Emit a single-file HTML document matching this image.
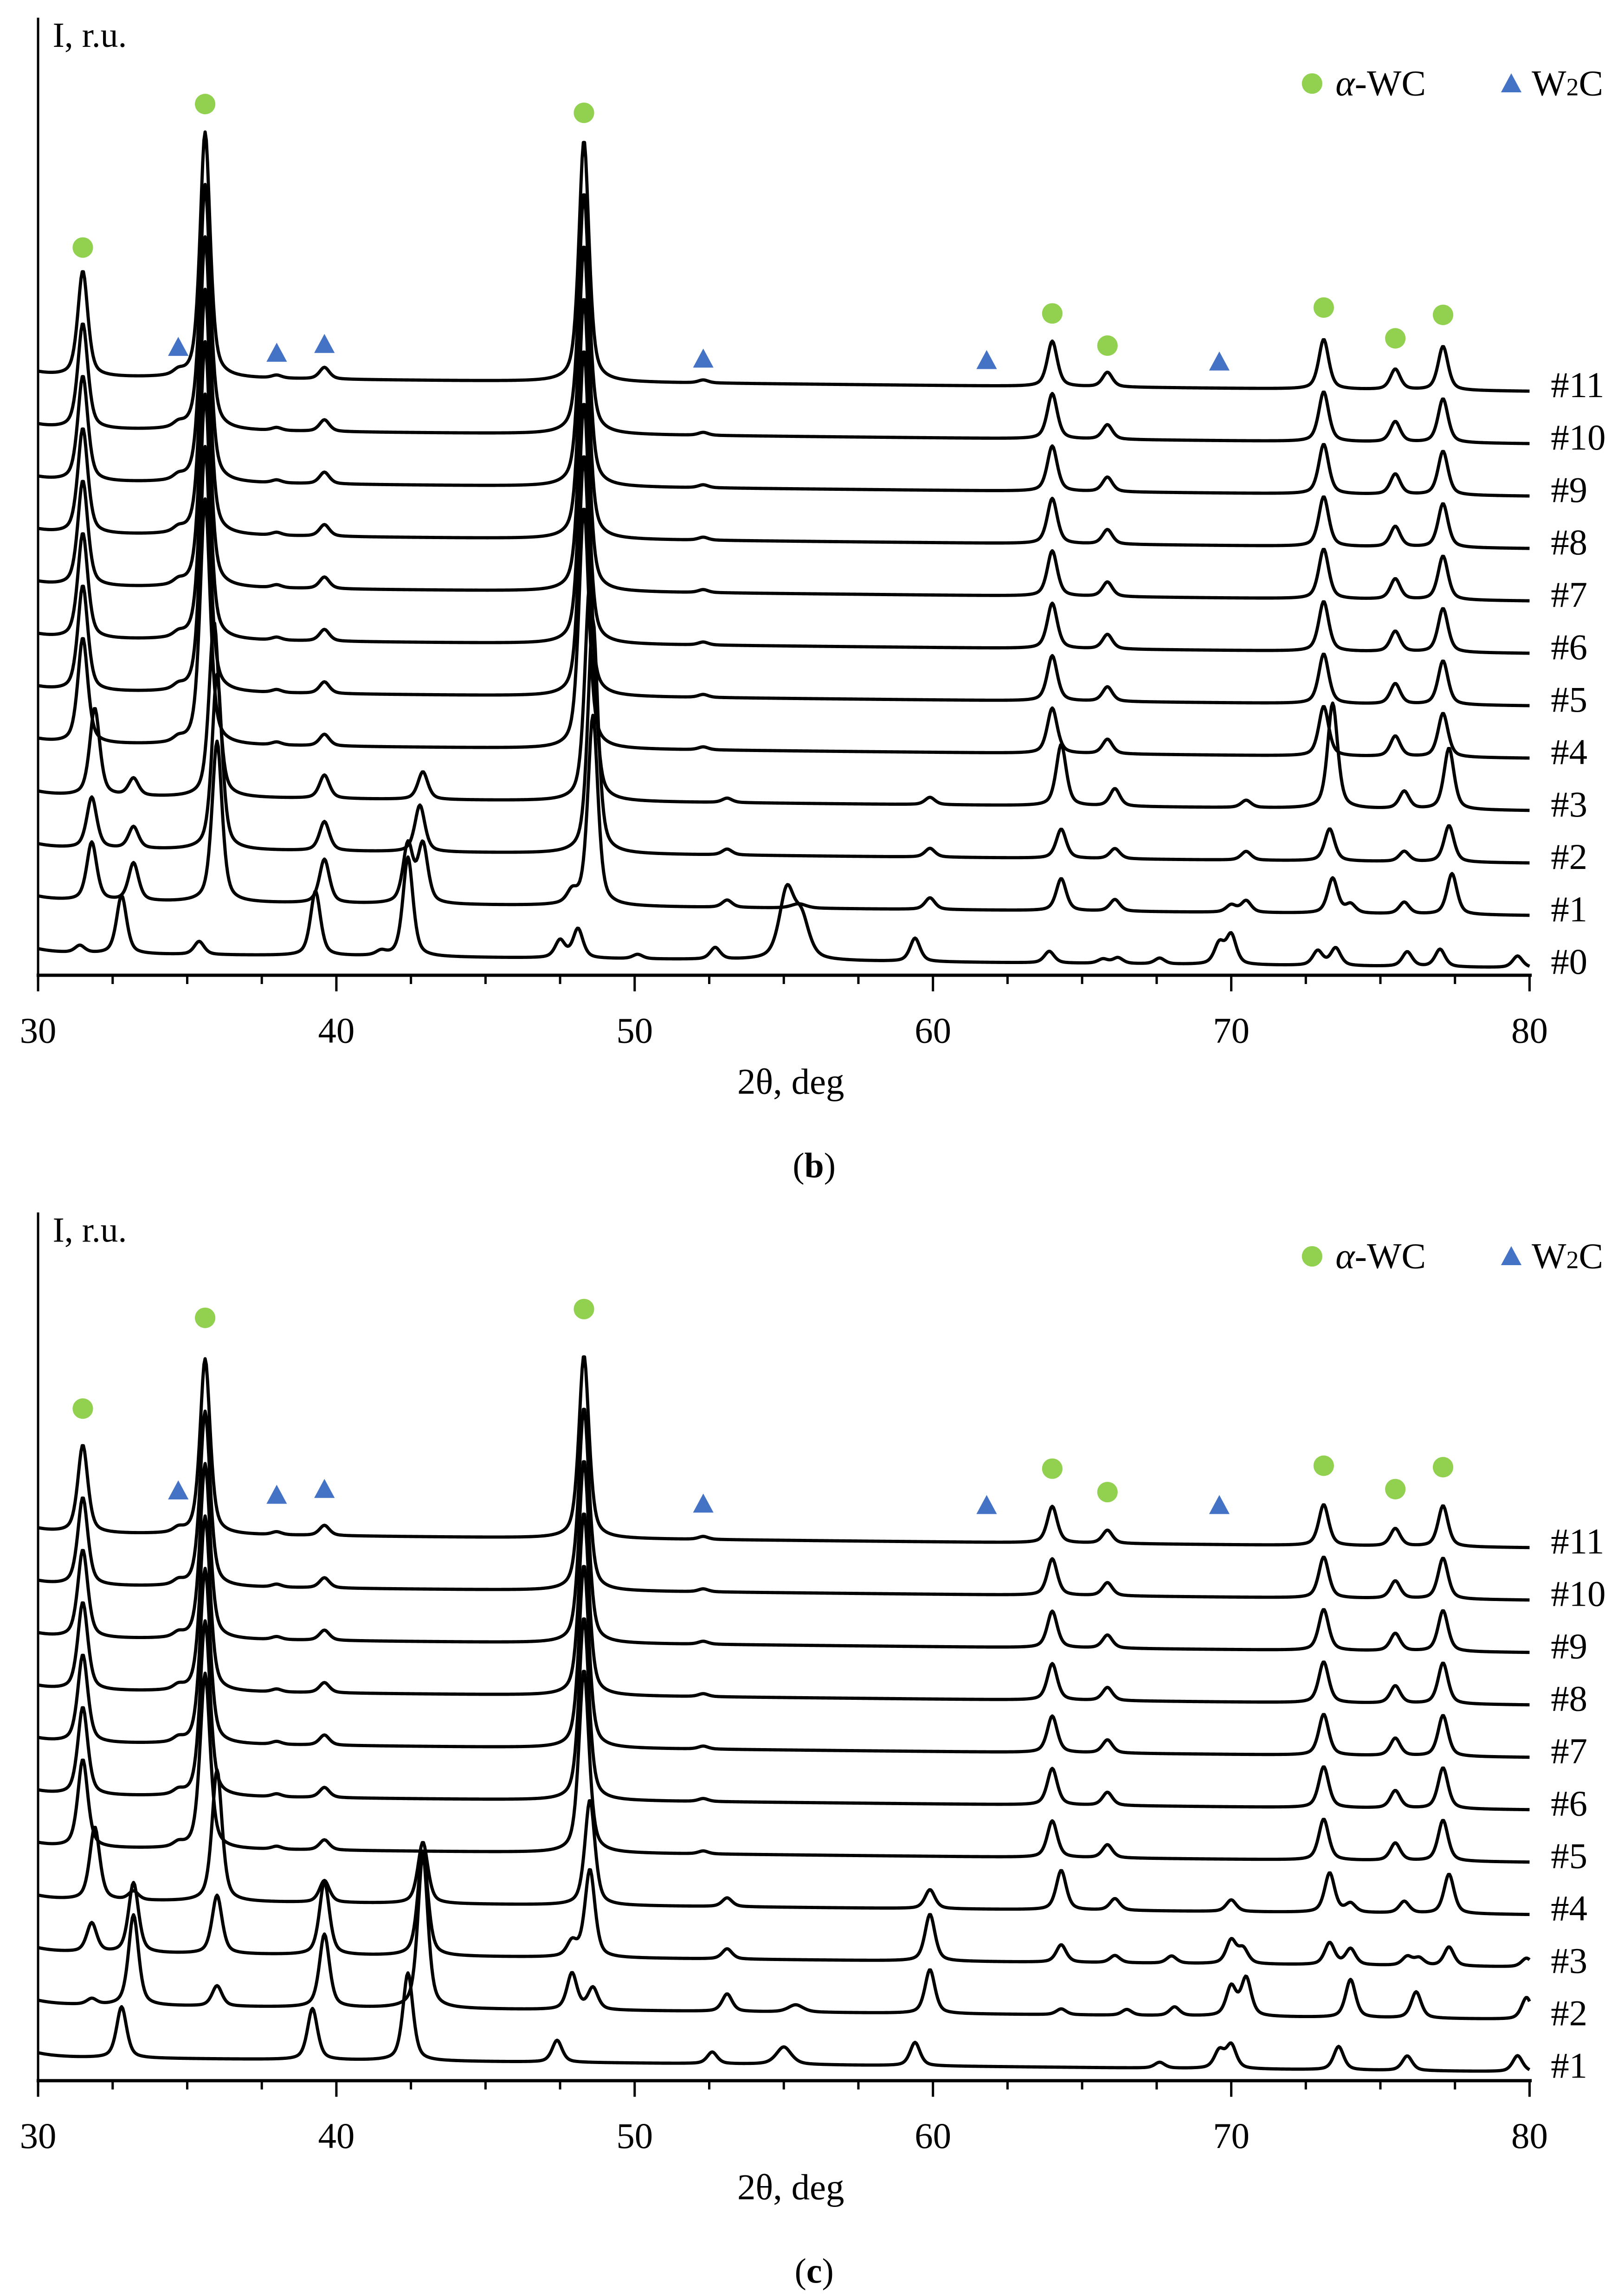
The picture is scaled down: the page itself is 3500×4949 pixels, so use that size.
<!DOCTYPE html>
<html><head><meta charset="utf-8"><style>
html,body{margin:0;padding:0;background:#fff}
svg{display:block}
text{font-family:"Liberation Serif",serif;fill:#000}
</style></head><body>
<svg id="chart" width="3500" height="4949" viewBox="0 0 1109 1568" xmlns="http://www.w3.org/2000/svg">
<g id="panelB"></g>
<g id="panelC"></g>
</svg>
<script>
// ---------- data ----------
const xTicks = [30, 40, 50, 60, 70, 80];
const labelsB = ["#0","#1","#2","#3","#4","#5","#6","#7","#8","#9","#10","#11"];
const labelsC = ["#1","#2","#3","#4","#5","#6","#7","#8","#9","#10","#11"];
// peak lists: [2θ, height]
const wcPeaks = [[31.5,72],[34.7,3],[35.6,168],[38.0,2],[39.6,8],[48.3,165],[52.3,2],[64.0,31],[65.85,10],[73.1,34],[75.5,14],[77.1,30]];
const w2cPeaks0 = [[31.4,5],[32.8,40],[35.4,9],[39.3,44],[41.5,3],[42.4,68],[47.5,12],[48.1,20],[50.1,3],[52.7,8],[55.1,46],[55.6,26],[59.4,16],[63.9,8],[65.7,3],[66.2,4],[67.6,4],[69.6,14],[70.0,20],[72.9,10],[73.5,12],[75.9,10],[77.0,12],[79.6,8]];
const mixB1 = [[31.8,40],[33.2,26],[36.0,110],[39.6,30],[42.4,40],[42.9,40],[47.9,8],[48.6,130],[53.1,5],[55.5,3],[59.9,8],[64.3,22],[66.1,8],[70.0,5],[70.5,8],[73.4,24],[74.0,6],[75.8,8],[77.4,28]];
const mixB2 = [[31.8,35],[33.2,15],[36.0,120],[39.6,20],[42.8,32],[48.6,160],[53.1,4],[59.9,6],[64.3,20],[66.1,7],[70.5,6],[73.3,22],[75.8,7],[77.3,25]];
const mixB3 = [[31.9,60],[33.2,12],[35.9,120],[39.6,16],[42.9,19],[48.5,150],[53.1,3],[59.9,5],[64.3,42],[66.1,12],[70.5,5],[73.4,72],[75.8,12],[77.3,42]];
const scaleB = [1,1,1,1,1.0,1.0,1.0,1.0,1.0,1.0,1.0,1.0];
const wcPeaksC = [[31.5,60],[34.7,3],[35.6,120],[38.0,2],[39.6,7],[48.3,125],[52.3,2],[64.0,25],[65.85,9],[73.1,28],[75.5,12],[77.1,28]];
const mixC1 = [[32.8,35],[39.2,35],[42.4,60],[47.4,15],[52.6,8],[55.0,12],[59.4,16],[67.6,4],[69.6,12],[70.0,16],[73.6,16],[75.9,10],[79.6,11]];
const mixC2 = [[31.8,4],[33.2,62],[36.0,14],[39.6,50],[42.9,105],[47.9,25],[48.6,15],[53.1,12],[55.4,5],[59.9,30],[64.3,4],[66.5,4],[68.1,6],[70.0,20],[70.5,26],[74.0,26],[76.2,18],[79.9,15]];
const mixC3 = [[31.8,20],[33.2,48],[36.0,40],[39.6,50],[42.9,72],[47.9,10],[48.5,60],[53.1,7],[59.9,32],[64.3,12],[66.1,5],[68.0,5],[70.0,16],[70.4,10],[73.3,15],[74.0,11],[75.9,6],[76.3,5],[77.3,13],[79.9,6]];
const mixC4 = [[31.9,50],[33.2,6],[36.0,90],[39.6,15],[42.9,42],[48.5,72],[53.1,6],[59.9,13],[64.3,27],[66.1,8],[70.0,8],[73.3,27],[74.0,6],[75.8,8],[77.3,27]];
const circlesB = [31.5,35.6,48.3,64.0,65.85,73.1,75.5,77.1];
const trianglesB = [34.7,38.0,39.6,52.3,61.8,69.6];

// ---------- helpers ----------
const NS = "http://www.w3.org/2000/svg";
function xs(t){ return 26 + (t-30)*20.37; }
function mk(tag, attrs, parent, txt){
  const e = document.createElementNS(NS, tag);
  for (const k in attrs) e.setAttribute(k, attrs[k]);
  if (txt !== undefined) e.textContent = txt;
  parent.appendChild(e); return e;
}
function profile(peaks, t){
  let s = 0;
  for (const p of peaks){
    const w = (p[0] > 54.5 && p[0] < 56) ? 0.3 : 0.2;
    const d = (t - p[0]) / w;
    s += p[1] * (0.55/(1+d*d) + 0.45*Math.exp(-0.693*d*d));
  }
  return s;
}
function drawTrace(g, peaks, leftY, rightY, name){
  let d = "";
  for (let t = 30; t <= 80.001; t += 0.04){
    const base = leftY + (rightY-leftY)*(t-30)/50 - 3*Math.exp(-(t-30)*1.5);
    const y = base - profile(peaks, t);
    d += (d ? "L" : "M") + xs(t).toFixed(2) + " " + y.toFixed(2);
  }
  const p = mk("path", {d:d, fill:"none", stroke:"#000", "stroke-width":"2.2", "stroke-linejoin":"round"}, g);
  
  
}
function drawPanel(g, top, bottom, labels, labelY0, spacing, traceList, circY, triY, legY, panelLetter){
  traceList.forEach((pk, i) => {
    const ly = labelY0 - i*spacing;
    drawTrace(g, pk, ly - 5, ly + 5, "trace-" + labels[i].replace("#",""));
    const tx = mk("text", {x:1059, y:ly+9, "font-size":"25"}, g, labels[i]);
    
    
  });
  const ax = mk("g", {}, g);
  
  
  mk("line", {x1:26, y1:top, x2:26, y2:bottom+4, stroke:"#000", "stroke-width":"1.6"}, ax);
  mk("line", {x1:25, y1:bottom, x2:1046, y2:bottom, stroke:"#000", "stroke-width":"2.2"}, ax);
  for (let t = 30; t <= 80; t += 2.5){
    const major = (t % 10 === 0);
    mk("line", {x1:xs(t), y1:bottom, x2:xs(t), y2:bottom + (major ? 11 : 6), stroke:"#000", "stroke-width":"1.6"}, ax);
  }
  xTicks.forEach(v => {
    const tl = mk("text", {x:xs(v), y:bottom+46, "font-size":"25", "text-anchor":"middle"}, ax, String(v));
    
    
  });
  const xt = mk("text", {x:540, y:bottom+81, "font-size":"25", "text-anchor":"middle"}, g, "2θ, deg");
  
  
  const yt = mk("text", {x:36, y:top+20, "font-size":"24"}, g, "I, r.u.");
  
  
  circlesB.forEach((t, i) => {
    const c = mk("circle", {cx:xs(t), cy:circY[i], r:7, fill:"#92d050"}, g);
    
    
  });
  trianglesB.forEach((t, i) => {
    const x = xs(t), y = triY[i];
    const tr = mk("polygon", {points:`${x-7},${y+6} ${x+7},${y+6} ${x},${y-7}`, fill:"#4472c4"}, g);
    
    
  });
  const lg = mk("g", {}, g);
  
  
  mk("circle", {cx:896, cy:legY, r:7, fill:"#92d050"}, lg);
  const l1 = mk("text", {x:912, y:legY+8, "font-size":"25"}, lg);
  mk("tspan", {"font-style":"italic"}, l1, "α");
  mk("tspan", {}, l1, "-WC");
  mk("polygon", {points:`1025,${legY+6} 1039,${legY+6} 1032,${legY-7}`, fill:"#4472c4"}, lg);
  const l2 = mk("text", {x:1046, y:legY+8, "font-size":"25"}, lg, "W");
  mk("tspan", {"font-size":"17"}, l2, "2");
  mk("tspan", {}, l2, "C");
  const pl = mk("text", {x:556, y:bottom+138, "font-size":"24", "text-anchor":"middle"}, g);
  mk("tspan", {}, pl, "(");
  mk("tspan", {"font-weight":"bold"}, pl, panelLetter);
  mk("tspan", {}, pl, ")");
  
  
}

const tracesB = [w2cPeaks0, mixB1, mixB2, mixB3];
for (let i = 4; i < 12; i++) tracesB.push(wcPeaks.map(p => [p[0], p[1]*scaleB[i]]));
drawPanel(document.getElementById("panelB"), 12, 666, labelsB, 656, 35.8, tracesB,
  [169,71,77,214,236,210,231,215], [237,241,235,245,246,247], 57, "b");

const tracesC = [mixC1, mixC2, mixC3, mixC4];
for (let i = 4; i < 11; i++) tracesC.push(wcPeaksC);
drawPanel(document.getElementById("panelC"), 828, 1421, labelsC, 1410, 35.8, tracesC,
  [962,900,894,1003,1019,1001,1017,1002], [1018,1021,1017,1027,1028,1028], 858, "c");
</script>
</body></html>
